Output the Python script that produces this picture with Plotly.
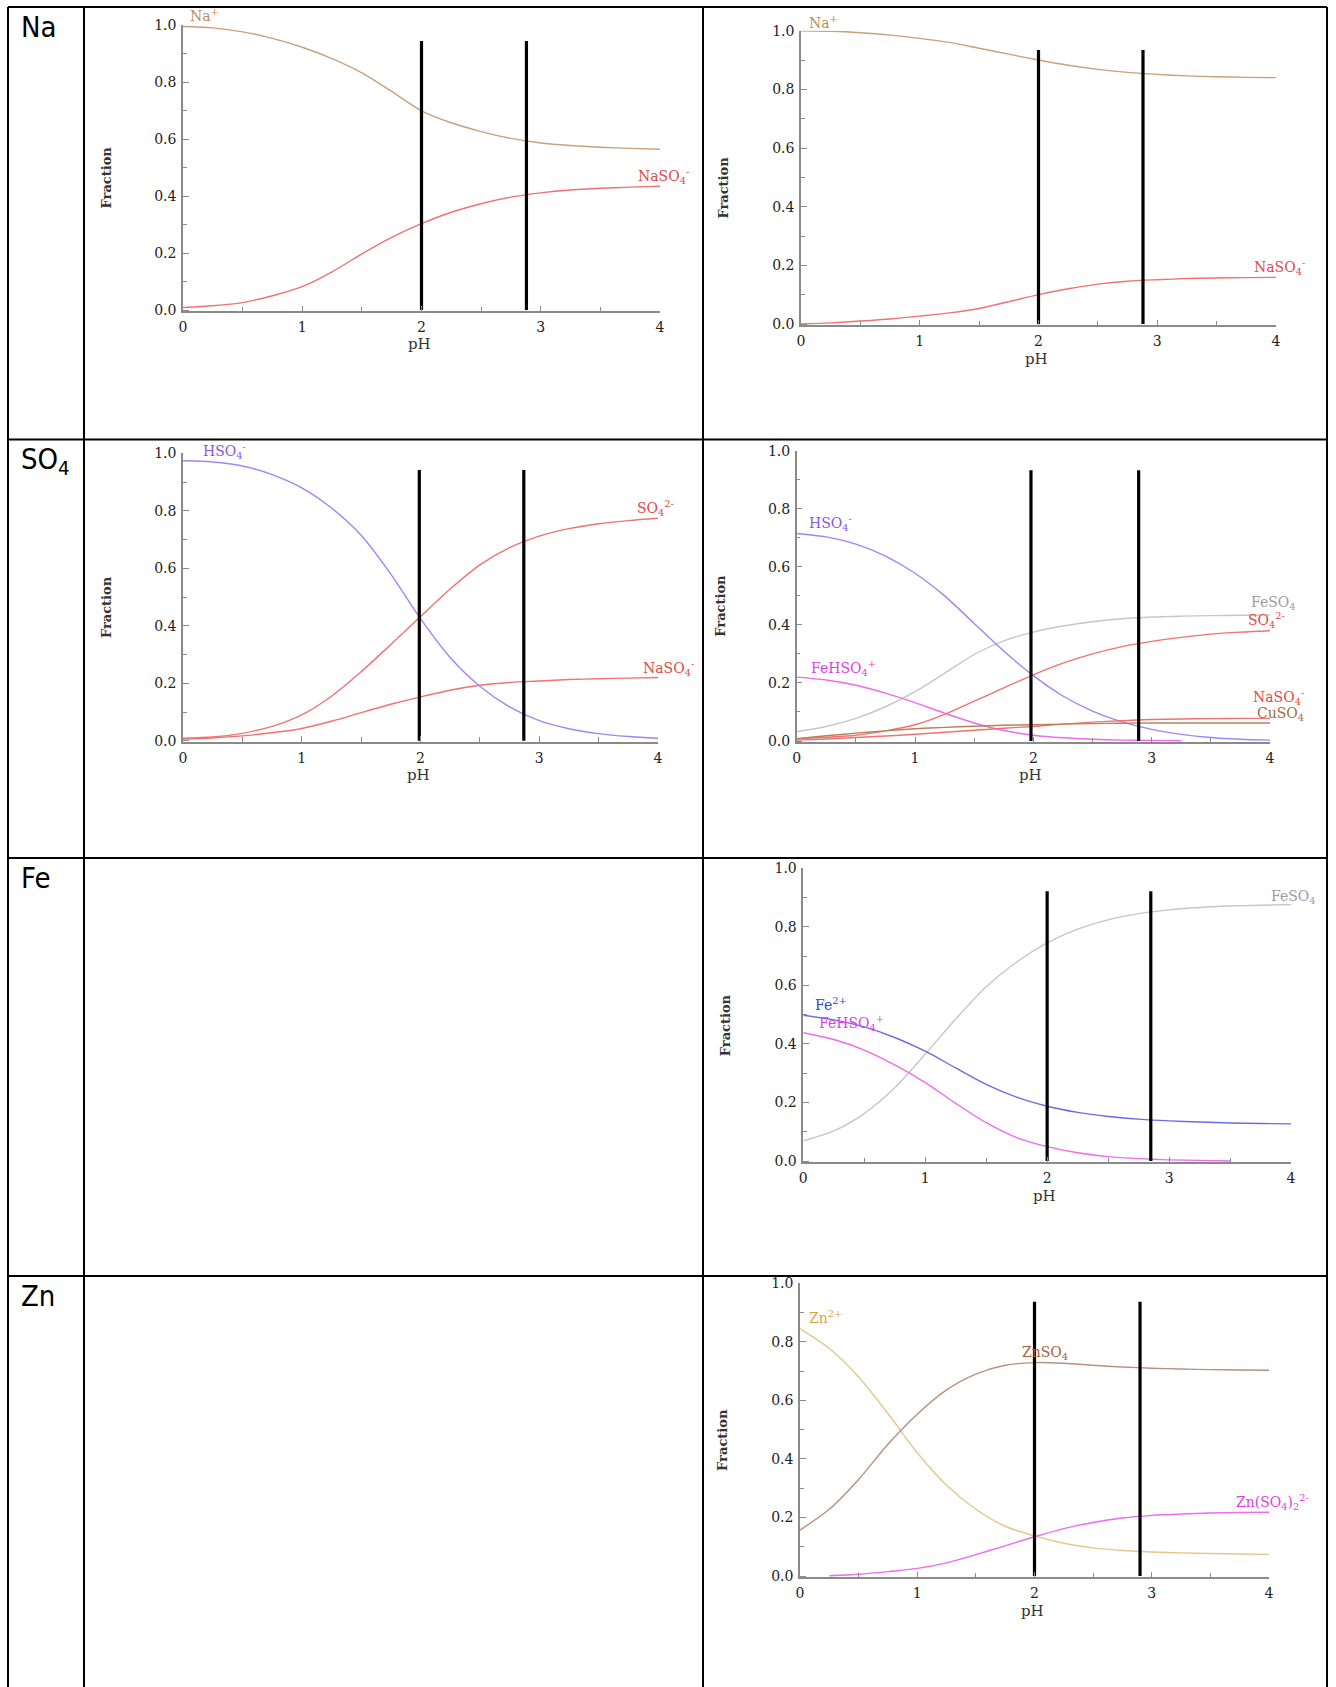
import plotly.graph_objects as go

# ---------------- data ----------------
ph = [0.0, 0.25, 0.5, 0.75, 1.0, 1.25, 1.5, 1.75, 2.0, 2.25, 2.5, 2.75, 3.0, 3.25, 3.5, 3.75, 4.0]

row_labels = ["Na", "SO<sub>4</sub>", "Fe", "Zn"]

# Panel A: Na, left
a_na = [0.995, 0.99, 0.976, 0.953, 0.922, 0.882, 0.832, 0.767, 0.699, 0.657, 0.626, 0.602, 0.586, 0.577, 0.571, 0.567, 0.564]
a_naso4 = [0.009, 0.015, 0.026, 0.05, 0.082, 0.134, 0.197, 0.255, 0.303, 0.343, 0.373, 0.396, 0.411, 0.421, 0.427, 0.431, 0.434]
a_marks = [2.0, 2.88]
a_mark_top = 0.944

# Panel B: Na, right
b_na = [1.0, 0.998, 0.993, 0.985, 0.974, 0.96, 0.94, 0.92, 0.90, 0.882, 0.868, 0.858, 0.851, 0.846, 0.843, 0.841, 0.84]
b_naso4 = [0.0, 0.004, 0.01, 0.017, 0.027, 0.038, 0.053, 0.076, 0.1, 0.12, 0.136, 0.146, 0.151, 0.155, 0.157, 0.158, 0.159]
b_marks = [2.0, 2.88]
b_mark_top = 0.934

# Panel C: SO4, left
c_hso4 = [0.974, 0.97, 0.956, 0.926, 0.88, 0.81, 0.715, 0.58, 0.425, 0.29, 0.19, 0.118, 0.07, 0.042, 0.025, 0.015, 0.009]
c_so4 = [0.009, 0.013, 0.026, 0.05, 0.09, 0.155, 0.24, 0.335, 0.432, 0.528, 0.612, 0.672, 0.712, 0.738, 0.755, 0.766, 0.774]
c_naso4 = [0.006, 0.01, 0.017, 0.028, 0.043, 0.068, 0.098, 0.127, 0.153, 0.176, 0.193, 0.203, 0.208, 0.213, 0.216, 0.218, 0.22]
c_marks = [1.99, 2.87]
c_mark_top = 0.942

# Panel D: SO4, right
d_hso4 = [0.715, 0.703, 0.678, 0.637, 0.578, 0.5, 0.405, 0.31, 0.225, 0.155, 0.103, 0.066, 0.04, 0.023, 0.012, 0.006, 0.003]
d_feso4 = [0.032, 0.05, 0.078, 0.118, 0.17, 0.233, 0.298, 0.345, 0.375, 0.396, 0.411, 0.421, 0.427, 0.43, 0.432, 0.433, 0.434]
d_so4 = [0.008, 0.013, 0.02, 0.035, 0.056, 0.092, 0.137, 0.183, 0.228, 0.268, 0.3, 0.325, 0.343, 0.357, 0.368, 0.375, 0.38]
d_fehso4 = [0.22, 0.21, 0.192, 0.165, 0.132, 0.096, 0.062, 0.036, 0.02, 0.011, 0.006, 0.003, 0.002, 0.001, None, None, None]
d_naso4 = [0.003, 0.007, 0.012, 0.017, 0.023, 0.03, 0.037, 0.044, 0.05, 0.058, 0.065, 0.07, 0.074, 0.076, 0.077, 0.078, 0.078]
d_cuso4 = [0.008, 0.018, 0.027, 0.035, 0.042, 0.047, 0.051, 0.054, 0.056, 0.058, 0.06, 0.061, 0.062, 0.062, 0.062, 0.062, 0.062]
d_marks = [1.98, 2.89]
d_mark_top = 0.933

# Panel E: Fe, right
e_feso4 = [0.069, 0.103, 0.162, 0.25, 0.365, 0.485, 0.595, 0.68, 0.745, 0.792, 0.824, 0.845, 0.858, 0.866, 0.871, 0.874, 0.876]
e_fe = [0.498, 0.482, 0.458, 0.422, 0.375, 0.318, 0.262, 0.218, 0.187, 0.166, 0.152, 0.143, 0.137, 0.133, 0.13, 0.128, 0.127]
e_fehso4 = [0.438, 0.415, 0.379, 0.328, 0.268, 0.197, 0.131, 0.08, 0.049, 0.028, 0.015, 0.008, 0.004, 0.002, 0.0, None, None]
e_marks = [2.0, 2.85]
e_mark_top = 0.922

# Panel F: Zn, right
f_zn = [0.845, 0.777, 0.68, 0.555, 0.421, 0.31, 0.228, 0.17, 0.137, 0.112, 0.096, 0.087, 0.082, 0.079, 0.077, 0.075, 0.074]
f_znso4 = [0.157, 0.228, 0.33, 0.45, 0.553, 0.636, 0.69, 0.72, 0.729, 0.727, 0.72, 0.714, 0.71, 0.707, 0.705, 0.704, 0.703]
f_znso42 = [None, 0.001, 0.006, 0.015, 0.026, 0.045, 0.073, 0.103, 0.134, 0.162, 0.183, 0.198, 0.207, 0.212, 0.215, 0.217, 0.218]
f_marks = [2.0, 2.9]
f_mark_top = 0.937

x_ticks = [0, 1, 2, 3, 4]
y_ticks = [0.0, 0.2, 0.4, 0.6, 0.8, 1.0]

# ---------------- styles / layout ----------------
W, H = 1336, 1687
SERIF = "DejaVu Serif, Liberation Serif, serif"

C_NA = "#c9a07c"
C_RED = "#f07272"
C_PURP = "#a384f2"
C_GRAY = "#c6c6c6"
C_MAG = "#ee6aee"
C_BLUE = "#6b6be6"
C_CU = "#b98158"
C_ZN = "#e6c58e"
C_ZNSO4 = "#b99080"

L_NA = "#c08a5c"
L_RED = "#e24848"
L_PURP = "#8a55e6"
L_GRAY = "#9c9c9c"
L_MAG = "#e040e0"
L_BLUE = "#3c3ce0"
L_CU = "#a8683c"
L_ZN = "#d9a548"
L_ZNSO4 = "#a4603e"

# pixel boxes: (x at pH0, x at pH4, y at 1.0, y at 0.0)
panels = [
    dict(box=(183, 660, 25, 310), marks=a_marks, top=a_mark_top,
         series=[(a_na, C_NA), (a_naso4, C_RED)],
         labels=[("Na<sup>+</sup>", 0.04, 1.035, L_NA), ("NaSO<sub>4</sub><sup>-</sup>", 3.8, 0.47, L_RED)]),
    dict(box=(801, 1276, 30.7, 324), marks=b_marks, top=b_mark_top,
         series=[(b_na, C_NA), (b_naso4, C_RED)],
         labels=[("Na<sup>+</sup>", 0.05, 1.03, L_NA), ("NaSO<sub>4</sub><sup>-</sup>", 3.8, 0.195, L_RED)]),
    dict(box=(183, 658, 453.3, 740.8), marks=c_marks, top=c_mark_top,
         series=[(c_hso4, C_PURP), (c_so4, C_RED), (c_naso4, C_RED)],
         labels=[("HSO<sub>4</sub><sup>-</sup>", 0.15, 1.008, L_PURP),
                 ("SO<sub>4</sub><sup>2-</sup>", 3.81, 0.81, L_RED),
                 ("NaSO<sub>4</sub><sup>-</sup>", 3.86, 0.252, L_RED)]),
    dict(box=(796.7, 1270, 450.7, 741), marks=d_marks, top=d_mark_top,
         series=[(d_feso4, C_GRAY), (d_hso4, C_PURP), (d_so4, C_RED), (d_fehso4, C_MAG),
                 (d_naso4, C_RED), (d_cuso4, C_CU)],
         labels=[("HSO<sub>4</sub><sup>-</sup>", 0.085, 0.75, L_PURP),
                 ("FeHSO<sub>4</sub><sup>+</sup>", 0.1, 0.25, L_MAG),
                 ("FeSO<sub>4</sub>", 3.82, 0.475, L_GRAY),
                 ("SO<sub>4</sub><sup>2-</sup>", 3.8, 0.418, L_RED),
                 ("NaSO<sub>4</sub><sup>-</sup>", 3.84, 0.15, L_RED),
                 ("CuSO<sub>4</sub>", 3.87, 0.092, L_CU)]),
    dict(box=(803.3, 1291, 868.3, 1161), marks=e_marks, top=e_mark_top,
         series=[(e_feso4, C_GRAY), (e_fe, C_BLUE), (e_fehso4, C_MAG)],
         labels=[("FeSO<sub>4</sub>", 3.82, 0.903, L_GRAY),
                 ("Fe<sup>2+</sup>", 0.077, 0.535, L_BLUE),
                 ("FeHSO<sub>4</sub><sup>+</sup>", 0.116, 0.472, L_MAG)]),
    dict(box=(800, 1269, 1283.3, 1576), marks=f_marks, top=f_mark_top,
         series=[(f_zn, C_ZN), (f_znso4, C_ZNSO4), (f_znso42, C_MAG)],
         labels=[("Zn<sup>2+</sup>", 0.059, 0.886, L_ZN),
                 ("ZnSO<sub>4</sub>", 1.88, 0.763, L_ZNSO4),
                 ("Zn(SO<sub>4</sub>)<sub>2</sub><sup>2-</sup>", 3.7, 0.252, L_MAG)]),
]

YMIN = -0.005

def dom_x(v):
    return v / 4.0

def dom_y(v):
    return (v - YMIN) / (1.0 - YMIN)

fig = go.Figure()
shapes = []
annotations = []
layout_axes = {}

for i, p in enumerate(panels, start=1):
    xa = "x" if i == 1 else f"x{i}"
    ya = "y" if i == 1 else f"y{i}"
    xk = "xaxis" if i == 1 else f"xaxis{i}"
    yk = "yaxis" if i == 1 else f"yaxis{i}"
    x0, x4, yt, y0 = p["box"]
    ybot = y0 + (0 - YMIN) * (y0 - yt)
    for vals, col in p["series"]:
        fig.add_trace(go.Scatter(x=ph, y=vals, mode="lines", xaxis=xa, yaxis=ya,
                                 line=dict(color=col, width=1.4, shape="spline", smoothing=0.8),
                                 showlegend=False, hoverinfo="skip", connectgaps=False))
    for m in p["marks"]:
        fig.add_trace(go.Scatter(x=[m, m], y=[0, p["top"]], mode="lines", xaxis=xa, yaxis=ya,
                                 line=dict(color="black", width=3.2), showlegend=False,
                                 hoverinfo="skip", cliponaxis=False))
    axis_common = dict(showline=True, linecolor="#8a8a8a", linewidth=1.5, showgrid=False,
                       zeroline=False, ticks="inside", tickcolor="#8a8a8a", ticklen=6,
                       tickwidth=1.2, automargin=False,
                       tickfont=dict(family=SERIF, size=14, color="#222222"))
    layout_axes[xk] = dict(axis_common, domain=[x0 / W, x4 / W], range=[0, 4], anchor=ya,
                           tickvals=x_ticks, ticklabelstandoff=2,
                           minor=dict(dtick=0.5, ticks="inside", ticklen=5, tickcolor="#8a8a8a"))
    layout_axes[yk] = dict(axis_common, domain=[1 - ybot / H, 1 - yt / H], range=[YMIN, 1.0],
                           anchor=xa, tickvals=y_ticks, tickformat=".1f", ticklabelstandoff=2,
                           minor=dict(dtick=0.1, ticks="inside", ticklen=4, tickcolor="#8a8a8a"))
    # axis titles
    annotations.append(dict(text="pH", x=dom_x(1.98), y=dom_y(-0.118),
                            xref=f"{xa} domain", yref=f"{ya} domain", showarrow=False,
                            font=dict(family=SERIF, size=15, color="#333333"),
                            xanchor="center", yanchor="middle"))
    annotations.append(dict(text="<b>Fraction</b>", x=0, y=dom_y(0.465),
                            xref=f"{xa} domain", yref=f"{ya} domain", xshift=-77,
                            showarrow=False, textangle=-90,
                            font=dict(family=SERIF, size=13, color="#333333"),
                            xanchor="center", yanchor="middle"))
    for txt, lx, ly, lc in p["labels"]:
        annotations.append(dict(text=txt, x=dom_x(lx), y=dom_y(ly),
                                xref=f"{xa} domain", yref=f"{ya} domain", showarrow=False,
                                font=dict(family=SERIF, size=14, color=lc),
                                xanchor="left", yanchor="middle"))

# table grid (pixel positions -> paper)
def px_x(v):
    return v / W

def px_y(v):
    return 1 - v / H

v_lines = [8, 84, 703, 1327]
h_lines = [7, 439.5, 858, 1276]
for vx in v_lines:
    shapes.append(dict(type="line", xref="paper", yref="paper", x0=px_x(vx), x1=px_x(vx),
                       y0=px_y(7), y1=px_y(1687), line=dict(color="black", width=2)))
for hy in h_lines:
    shapes.append(dict(type="line", xref="paper", yref="paper", x0=px_x(8), x1=px_x(1327),
                       y0=px_y(hy), y1=px_y(hy), line=dict(color="black", width=2)))

row_tops = [7, 439.5, 858, 1276]
for lab, top in zip(row_labels, row_tops):
    annotations.append(dict(text=lab, x=px_x(19), y=px_y(top + 1), xref="paper", yref="paper",
                            showarrow=False, xanchor="left", yanchor="top",
                            font=dict(family="Liberation Sans Narrow, DejaVu Sans Condensed, Liberation Sans, sans-serif",
                                      size=29, color="black")))

fig.update_layout(width=W, height=H, margin=dict(l=0, r=0, t=0, b=0, autoexpand=False),
                  paper_bgcolor="white", plot_bgcolor="rgba(0,0,0,0)",
                  shapes=shapes, annotations=annotations, showlegend=False, **layout_axes)

fig.write_html("out.html",
               config={"displayModeBar": False},
               post_script="document.body.style.margin='0px';document.documentElement.style.margin='0px';document.body.style.overflow='hidden';")
